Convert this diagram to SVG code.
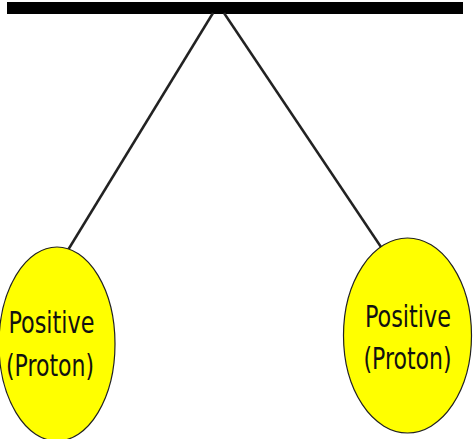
<svg xmlns="http://www.w3.org/2000/svg" width="475" height="439" viewBox="0 0 475 439">
  <style>
    .ball { fill: #ffff00; stroke: #222; stroke-width: 1.2; }
    .lbl { font-family: "DejaVu Sans Condensed", "DejaVu Sans", sans-serif; font-size: 31px; fill: #111; text-anchor: middle; }
    .string { stroke: #222; stroke-width: 2.5; fill: none; }
  </style>
  <rect width="475" height="439" fill="#ffffff"/>
  <g id="bar">
    <rect x="7" y="2" width="456" height="12" fill="#000000"/>
  </g>
  <g id="connectors">
    <line class="string" x1="213" y1="13" x2="68" y2="250"/>
    <line class="string" x1="224" y1="13" x2="383" y2="250"/>
  </g>
  <g id="left-proton">
    <ellipse class="ball" cx="57" cy="344" rx="58" ry="97"/>
    <text class="lbl" x="51.5" y="333" textLength="86" lengthAdjust="spacingAndGlyphs">Positive</text>
    <text class="lbl" x="50" y="376" textLength="88" lengthAdjust="spacingAndGlyphs">(Proton)</text>
  </g>
  <g id="right-proton">
    <ellipse class="ball" cx="407.5" cy="335.5" rx="64" ry="97.5"/>
    <text class="lbl" x="408" y="327" textLength="86" lengthAdjust="spacingAndGlyphs">Positive</text>
    <text class="lbl" x="407.5" y="369" textLength="88" lengthAdjust="spacingAndGlyphs">(Proton)</text>
  </g>
</svg>
